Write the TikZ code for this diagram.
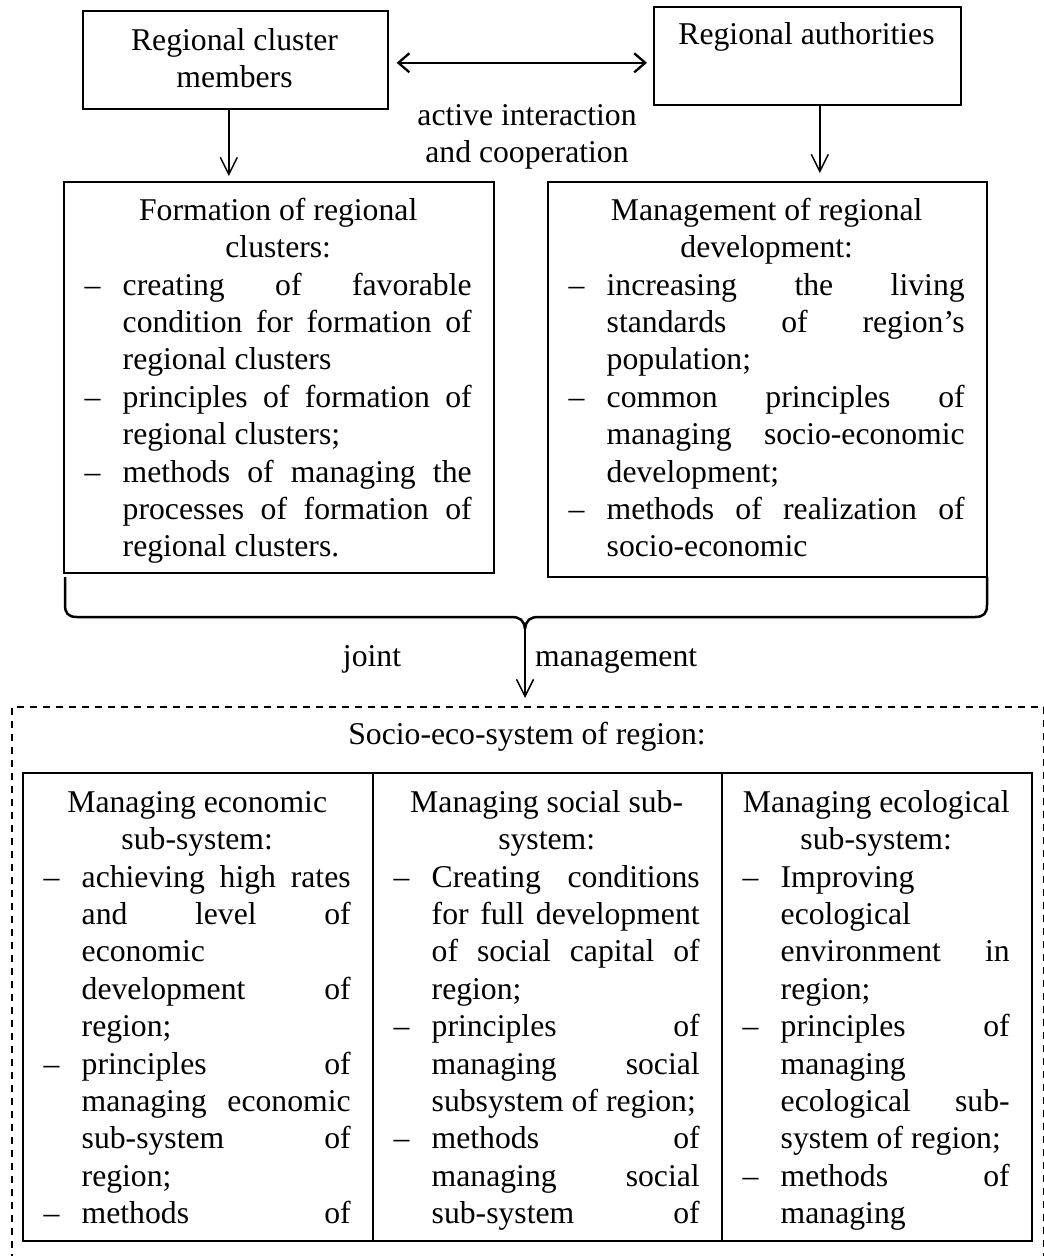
\documentclass[tikz,border=0pt]{standalone}
\usepackage{fontspec}
\setmainfont{Liberation Serif}
\usetikzlibrary{arrows.meta}
\newcommand\fstrut{\rule{0pt}{28pt}}
\newcommand\itm[1]{\par\noindent\hangindent=38pt\hangafter=1\makebox[38pt][l]{–}#1\par}
\newcommand\hd[1]{{\centering\fstrut #1\par}}
\pretolerance=10000 \tolerance=10000 \hbadness=10000
\hyphenpenalty=10000 \exhyphenpenalty=10000
\begin{document}
\begin{tikzpicture}[x=1pt,y=-1pt,
  every node/.style={font=\fontsize{31.7pt}{37.4pt}\selectfont},
  box/.style={draw, line width=1.6pt, inner sep=0pt, anchor=north west},
  txt/.style={anchor=north west, inner ysep=0pt, inner xsep=21.5pt, align=justify},
  arr/.style={line width=1.5pt, -{Straight Barb[length=17pt,width=17pt]}},
  dbl/.style={line width=2.3pt, {Straight Barb[length=11pt,width=19pt]}-{Straight Barb[length=11pt,width=19pt]}},
  brace/.style={line width=2.5pt, line join=round},
  dashbox/.style={draw, line width=1.5pt, dash pattern=on 7pt off 6pt, inner sep=0pt, anchor=north west}]
\useasboundingbox (0,0) rectangle (1044,1256);
\fill[white] (0,0) rectangle (1044,1256);
\clip (0,0) rectangle (1044,1256);

% top boxes
\node[box, minimum width=305pt, minimum height=98pt] (rcm) at (82,10) {};
\node[anchor=north, align=center, inner sep=0pt] (rcmt) at (234.5,22) {\fstrut Regional cluster\\members};
\node[box, minimum width=307pt, minimum height=98pt] (ra) at (653,6) {};
\node[anchor=base] (rat) at (806.5,44) {Regional authorities};

\coordinate (dl) at ([shift={(8,3)}]rcm.east);
\path (dl -| ra.west) coordinate (drr);
\coordinate (dr) at ([xshift=-6pt]drr);
\draw[dbl] (dl) -- (dr);
\node[anchor=north, align=center, inner sep=0pt] (lbl) at (527,97) {\fstrut active interaction\\and cooperation};

% middle boxes
\node[box, minimum width=430pt, minimum height=391pt] (form) at (63,181) {};
\node[box, minimum width=439pt, minimum height=395pt] (mgmt) at (547,181) {};

\coordinate (a1) at ([xshift=-6.5pt]rcm.south);
\draw[arr, shorten >=5pt] (a1) -- (a1 |- form.north);
\coordinate (a2) at ([xshift=12.5pt]ra.south);
\draw[arr, shorten >=8pt] (a2) -- (a2 |- mgmt.north);

\node[txt, text width=387pt] (formt) at (63,192) {%
\hd{Formation of regional\\clusters:}%
\itm{creating of favorable\linebreak condition for formation of\linebreak regional clusters}%
\itm{principles of formation of\linebreak regional clusters;}%
\itm{methods of managing the\linebreak processes of formation of\linebreak regional clusters.}};

\node[txt, text width=396pt] (mgmtt) at (547,192) {%
\hd{Management of regional\\development:}%
\itm{increasing the living\linebreak standards of region’s\linebreak population;}%
\itm{common principles of\linebreak managing socio-economic\linebreak development;}%
\itm{methods of realization of\linebreak socio-economic}};

% brace
\coordinate (bt) at (525,629);
\draw[brace] (65,577) -- (65,605) .. controls (65,613) and (68,617) .. (77,617) -- (511,617) .. controls (520,617) and (524,620) .. (bt);
\draw[brace] (987,577) -- (987,605) .. controls (987,613) and (984,617) .. (975,617) -- (539,617) .. controls (530,617) and (526,620) .. (bt);
\node[anchor=base] (joint) at (372,666) {joint};
\node[anchor=base west, inner sep=0pt] (jm) at (535,666) {management};

% socio-eco-system
\node[dashbox, minimum width=1032pt, minimum height=600pt] (socio) at (11,706) {};
\draw[arr, shorten >=8pt] (bt) -- (bt |- socio.north);
\node[anchor=base] (stitle) at (527,744) {Socio-eco-system of region:};

\node[box, minimum width=350pt, minimum height=468pt] (c1) at (22,772) {};
\node[box, minimum width=349pt, minimum height=468pt] (c2) at (372,772) {};
\node[box, minimum width=310pt, minimum height=468pt] (c3) at (721,772) {};

\node[txt, text width=307pt] (c1t) at (22,784) {%
\hd{Managing economic\\sub-system:}%
\itm{achieving high rates\linebreak and level of\linebreak economic\linebreak development of\linebreak region;}%
\itm{principles of\linebreak managing economic\linebreak sub-system of\linebreak region;}%
\itm{methods of\linebreak}};

\node[txt, text width=306pt] (c2t) at (372,784) {%
\hd{Managing social sub-\\system:}%
\itm{Creating conditions\linebreak for full development\linebreak of social capital of\linebreak region;}%
\itm{principles of\linebreak managing social\linebreak subsystem of region;}%
\itm{methods of\linebreak managing social\linebreak sub-system of\linebreak}};

\node[txt, text width=267pt] (c3t) at (721,784) {%
\hd{Managing ecological\\sub-system:}%
\itm{Improving\linebreak ecological\linebreak environment in\linebreak region;}%
\itm{principles of\linebreak managing\linebreak ecological sub-\linebreak system of region;}%
\itm{methods of\linebreak managing}};
\end{tikzpicture}
\end{document}
